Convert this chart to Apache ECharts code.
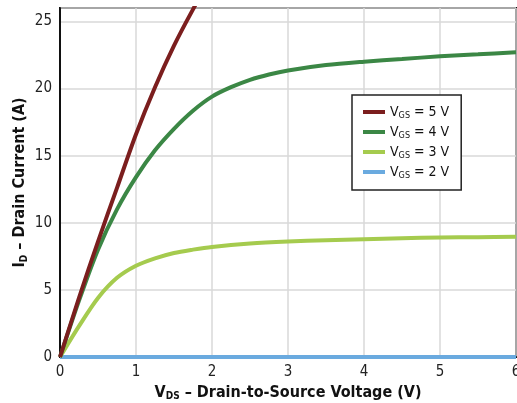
<!DOCTYPE html>
<html>
<head>
<meta charset="utf-8">
<script src="https://cdn.jsdelivr.net/npm/echarts@6/dist/echarts.min.js"></script>
<style>
  html, body { margin: 0; padding: 0; background: #fff; }
  #chart { width: 517px; height: 403px; }
</style>
</head>
<body>
<div id="chart"></div>
<script>
// drain voltage V_DS (V) and drain current I_D (A)
const vgs5X = [0, 0.25, 0.5, 0.75, 1, 1.25, 1.5, 1.75, 2]
const vgs5Y = [0, 4.4, 8.6, 12.6, 16.6, 20.1, 23.2, 25.9, 28.4]

const vgs4X = [0, 0.25, 0.5, 0.75, 1, 1.25, 1.5, 1.75, 2, 2.25, 2.5, 2.75, 3, 3.5, 4, 4.5, 5, 5.5, 6]
const vgs4Y = [0, 4.2, 8.0, 11.0, 13.4, 15.4, 17.0, 18.35, 19.4, 20.1, 20.65, 21.05, 21.35, 21.75, 22.0, 22.2, 22.4, 22.55, 22.7]

const vgs3X = [0, 0.25, 0.5, 0.75, 1, 1.25, 1.5, 1.75, 2, 2.5, 3, 3.5, 4, 4.5, 5, 5.5, 6]
const vgs3Y = [0, 2.3, 4.4, 5.9, 6.8, 7.35, 7.75, 8.0, 8.2, 8.45, 8.6, 8.7, 8.78, 8.85, 8.9, 8.93, 8.95]

const vgs2X = [0, 1, 2, 3, 4, 5, 6]
const vgs2Y = [0, 0, 0, 0, 0, 0, 0]

const seriesNames = ['VGS = 5 V', 'VGS = 4 V', 'VGS = 3 V', 'VGS = 2 V']
const legendLabels = ['5 V', '4 V', '3 V', '2 V']

const FONT = "'Liberation Sans Narrow', 'DejaVu Sans Condensed', sans-serif"
const colors = ['#7B1E1E', '#3B8745', '#A5CB4E', '#6AAADF']

const zip = (xs, ys) => xs.map((x, i) => [x, ys[i]])

const chart = echarts.init(document.getElementById('chart'))
const option = {
  animation: false,
  grid: {
    left: 60,
    right: 1,
    top: 8,
    bottom: 46,
    outerBoundsMode: 'none',
    show: true,
    borderColor: '#111',
    borderWidth: 2
  },
  legend: {
    left: 352,
    top: 95,
    orient: 'vertical',
    backgroundColor: '#fff',
    borderColor: '#222',
    borderWidth: 1.5,
    padding: [10, 12, 10, 11],
    itemWidth: 22,
    itemHeight: 4,
    itemGap: 5,
    icon: 'rect',
    data: seriesNames,
    formatter: name => {
      let i = seriesNames.indexOf(name)
      return '{v|V}{s|GS}{v| = ' + legendLabels[i] + '}'
    },
    textStyle: {
      fontFamily: FONT,
      color: '#111',
      rich: {
        v: { fontFamily: FONT, fontSize: 14, color: '#111', lineHeight: 16 },
        s: { fontFamily: FONT, fontSize: 9, color: '#111', lineHeight: 16, verticalAlign: 'bottom', padding: [6, 0, 0, 0] }
      }
    }
  },
  xAxis: {
    type: 'value',
    min: 0,
    max: 6,
    interval: 1,
    name: '{b|V}{bs|DS}{b| – Drain-to-Source Voltage (V)}',
    nameLocation: 'middle',
    nameGap: 24,
    nameTextStyle: {
      rich: {
        b: { fontFamily: FONT, fontSize: 16, fontWeight: 'bold', color: '#111', lineHeight: 18 },
        bs: { fontFamily: FONT, fontSize: 10, fontWeight: 'bold', color: '#111', lineHeight: 18, verticalAlign: 'bottom', padding: [7, 0, 0, 0] }
      }
    },
    axisLine: { lineStyle: { color: '#111', width: 2 } },
    axisTick: { show: false },
    axisLabel: { fontFamily: FONT, fontSize: 15, color: '#222', margin: 8 },
    splitLine: { lineStyle: { color: '#d8d8d8', width: 1.5 } }
  },
  yAxis: {
    type: 'value',
    min: 0,
    max: 26,
    interval: 5,
    name: '{b|I}{bs|D}{b| – Drain Current (A)}',
    nameLocation: 'middle',
    nameGap: 31,
    nameMoveOverlap: false,
    nameTextStyle: {
      rich: {
        b: { fontFamily: FONT, fontSize: 16, fontWeight: 'bold', color: '#111', lineHeight: 18 },
        bs: { fontFamily: FONT, fontSize: 10, fontWeight: 'bold', color: '#111', lineHeight: 18, verticalAlign: 'bottom', padding: [7, 0, 0, 0] }
      }
    },
    axisLine: { show: true, lineStyle: { color: '#111', width: 2 } },
    axisTick: { show: false },
    axisLabel: { fontFamily: FONT, fontSize: 15, color: '#222', margin: 8, showMaxLabel: false },
    splitLine: { lineStyle: { color: '#d8d8d8', width: 1.5 } }
  },
  series: [
    { name: seriesNames[0], data: zip(vgs5X, vgs5Y) },
    { name: seriesNames[1], data: zip(vgs4X, vgs4Y) },
    { name: seriesNames[2], data: zip(vgs3X, vgs3Y) },
    { name: seriesNames[3], data: zip(vgs2X, vgs2Y) }
  ].map((s, i) => ({
    name: s.name,
    type: 'line',
    data: s.data,
    smooth: 0.3,
    showSymbol: false,
    clip: true,
    color: colors[i],
    lineStyle: { color: colors[i], width: 4 },
    z: 10 - i
  }))
}
chart.setOption(option)
</script>
</body>
</html>
